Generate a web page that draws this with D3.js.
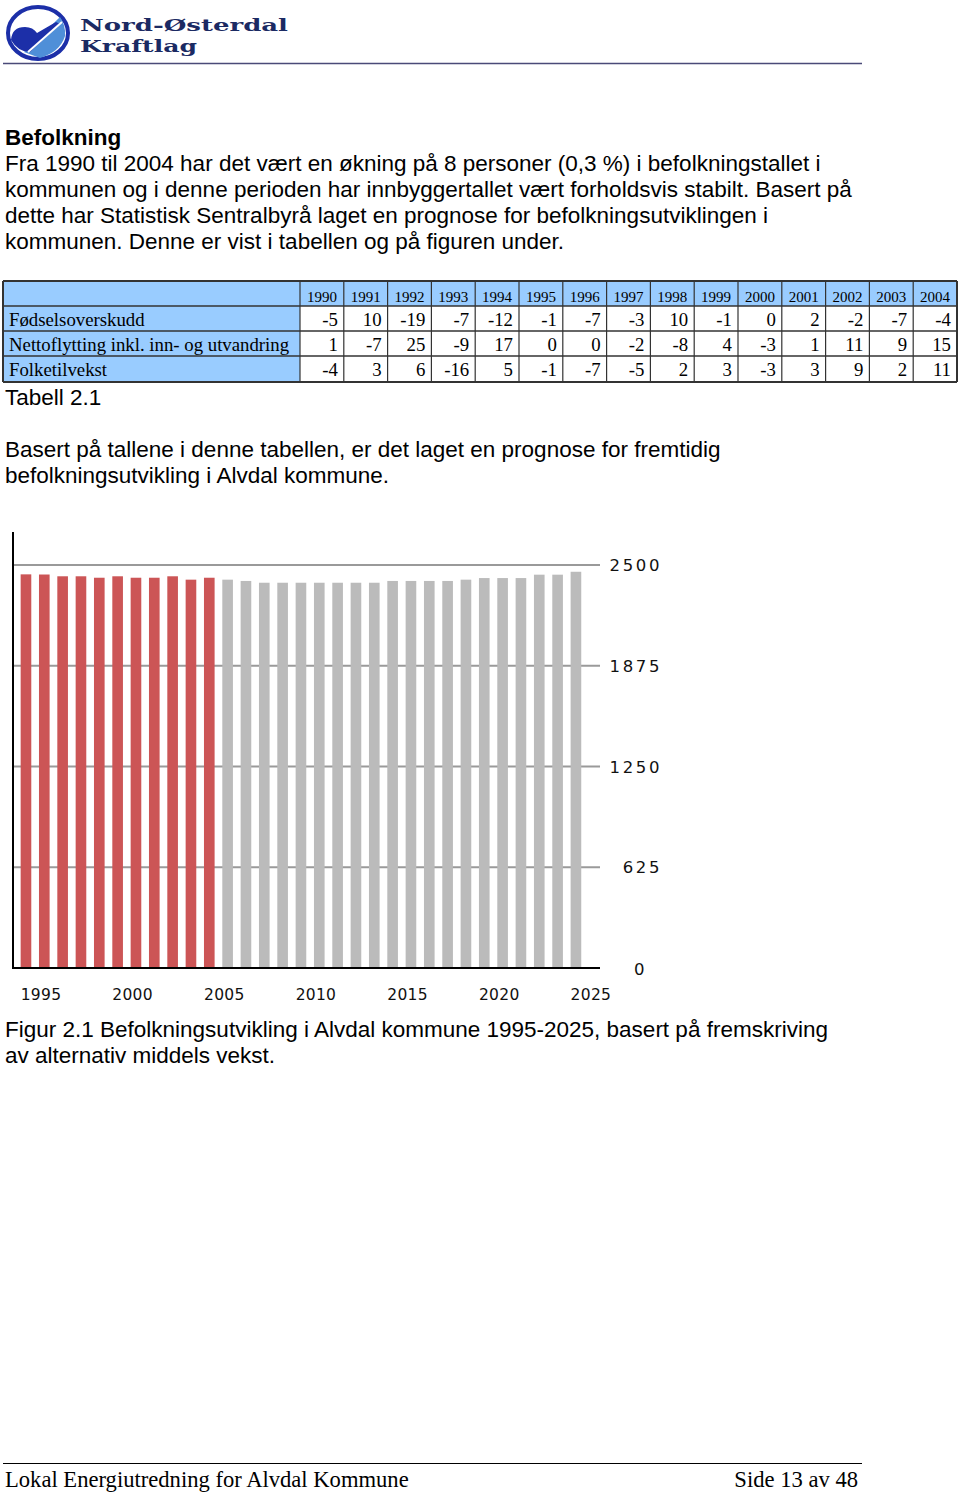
<!DOCTYPE html>
<html>
<head>
<meta charset="utf-8">
<script src="https://cdn.jsdelivr.net/npm/d3@7"></script>
<style>
  html, body { margin: 0; padding: 0; background: #fff; }
  svg { display: block; }
</style>
</head>
<body>
<svg id="page" width="960" height="1492"></svg>
<script>
// ---------- DATA ----------
const popYears = [1995,1996,1997,1998,1999,2000,2001,2002,2003,2004,2005,2006,2007,2008,2009,2010,
                  2011,2012,2013,2014,2015,2016,2017,2018,2019,2020,2021,2022,2023,2024,2025];
const population = [2442,2441,2430,2430,2421,2430,2421,2421,2430,2409,2421,2409,2401,2390,2390,2390,
                    2390,2390,2390,2390,2401,2401,2401,2401,2409,2419,2419,2419,2440,2440,2458];
const lastRegisteredYear = 2005;
const yTicks = [0, 625, 1250, 1875, 2500];
const xTickYears = [1995, 2000, 2005, 2010, 2015, 2020, 2025];

const tableYears = [1990,1991,1992,1993,1994,1995,1996,1997,1998,1999,2000,2001,2002,2003,2004];
const tableRowLabels = ["Fødselsoverskudd", "Nettoflytting inkl. inn- og utvandring", "Folketilvekst"];
const fodselsoverskudd = [-5,10,-19,-7,-12,-1,-7,-3,10,-1,0,2,-2,-7,-4];
const nettoflytting = [1,-7,25,-9,17,0,0,-2,-8,4,-3,1,11,9,15];
const folketilvekst = [-4,3,6,-16,5,-1,-7,-5,2,3,-3,3,9,2,11];

const introLines = [
  "Fra 1990 til 2004 har det vært en økning på 8 personer (0,3 %) i befolkningstallet i",
  "kommunen og i denne perioden har innbyggertallet vært forholdsvis stabilt. Basert på",
  "dette har Statistisk Sentralbyrå laget en prognose for befolkningsutviklingen i",
  "kommunen. Denne er vist i tabellen og på figuren under."
];
const afterTableLines = [
  "Basert på tallene i denne tabellen, er det laget en prognose for fremtidig",
  "befolkningsutvikling i Alvdal kommune."
];
const captionLines = [
  "Figur 2.1 Befolkningsutvikling i Alvdal kommune 1995-2025, basert på fremskriving",
  "av alternativ middels vekst."
];

// ---------- PAGE ----------
const svg = d3.select("#page");
const sans = "'Liberation Sans', Arial, sans-serif";
const serif = "'Liberation Serif', 'Times New Roman', serif";
const bodySize = 22.5;

// Header logo
const logo = svg.append("g");
logo.append("ellipse").attr("cx", 38).attr("cy", 33).attr("rx", 30).attr("ry", 26)
  .attr("fill", "#fff").attr("stroke", "#1c2fa8").attr("stroke-width", 4);
logo.append("path").attr("d", "M24,52 L60,17 Q66,26 65,36 Q60,52 40,58 Z").attr("fill", "#4f8fd8");
logo.append("path").attr("d", "M11,40 Q12,27 25,27 Q33,27 37,33 L56,22 L60,24 L30,52 Q18,52 11,40 Z").attr("fill", "#1c2fa8");
logo.append("path").attr("d", "M28,52 L62,22").attr("stroke", "#fff").attr("stroke-width", 2);
svg.append("text").attr("x", 80).attr("y", 31).text("Nord-Østerdal")
  .attr("font-family", "'DejaVu Serif', serif").attr("font-weight", "bold").attr("font-size", 17)
  .attr("fill", "#1b2a63").attr("textLength", 208).attr("lengthAdjust", "spacingAndGlyphs");
svg.append("text").attr("x", 80).attr("y", 52).text("Kraftlag")
  .attr("font-family", "'DejaVu Serif', serif").attr("font-weight", "bold").attr("font-size", 17)
  .attr("fill", "#1b2a63").attr("textLength", 117).attr("lengthAdjust", "spacingAndGlyphs");
svg.append("line").attr("x1", 3).attr("x2", 862).attr("y1", 63.5).attr("y2", 63.5)
  .attr("stroke", "#4a4a78").attr("stroke-width", 1.5);

// Intro text
svg.append("text").attr("x", 5).attr("y", 145).text("Befolkning")
  .attr("font-family", sans).attr("font-weight", "bold").attr("font-size", bodySize).attr("fill", "#000");
introLines.forEach((t, i) => {
  svg.append("text").attr("x", 5).attr("y", 171 + i * 26).text(t)
    .attr("font-family", sans).attr("font-size", bodySize).attr("fill", "#000");
});

// ---------- TABLE ----------
const tbl = svg.append("g");
const tLeft = 3, tFirstColRight = 300, tRight = 957;
const rowTops = [281, 306, 331, 356, 382];
const colX = d3.scaleBand().domain(tableYears).range([tFirstColRight, tRight]);
const blue = "#99ccff";
tbl.append("rect").attr("x", tLeft).attr("y", rowTops[0]).attr("width", tRight - tLeft)
  .attr("height", rowTops[1] - rowTops[0]).attr("fill", blue);
tbl.append("rect").attr("x", tLeft).attr("y", rowTops[1]).attr("width", tFirstColRight - tLeft)
  .attr("height", rowTops[4] - rowTops[1]).attr("fill", blue);
tbl.selectAll("text.yr").data(tableYears).join("text").attr("class", "yr")
  .attr("x", d => colX(d) + colX.bandwidth() / 2).attr("y", 302)
  .attr("text-anchor", "middle").attr("font-family", serif).attr("font-size", 15)
  .text(d => d);
const rows = [fodselsoverskudd, nettoflytting, folketilvekst];
rows.forEach((vals, r) => {
  const base = rowTops[r + 1] + 20;
  tbl.append("text").attr("x", 9).attr("y", base).text(tableRowLabels[r])
    .attr("font-family", serif).attr("font-size", 18.8);
  tbl.selectAll("text.v" + r).data(vals).join("text").attr("class", "v" + r)
    .attr("x", (d, i) => colX(tableYears[i]) + colX.bandwidth() - 6).attr("y", base)
    .attr("text-anchor", "end").attr("font-family", serif).attr("font-size", 18.8)
    .text(d => d);
});
const gridStroke = "#333";
rowTops.forEach((y, i) => {
  tbl.append("line").attr("x1", tLeft).attr("x2", tRight).attr("y1", y).attr("y2", y)
    .attr("stroke", gridStroke).attr("stroke-width", (i === 0 || i === 4) ? 2 : 1.5);
});
[tLeft, tFirstColRight].concat(tableYears.slice(1).map(d => colX(d)), [tRight]).forEach((x, i, arr) => {
  tbl.append("line").attr("x1", x).attr("x2", x).attr("y1", rowTops[0]).attr("y2", rowTops[4])
    .attr("stroke", gridStroke).attr("stroke-width", (i === 0 || i === arr.length - 1) ? 2 : 1.2);
});
svg.append("text").attr("x", 5).attr("y", 405).text("Tabell 2.1")
  .attr("font-family", sans).attr("font-size", bodySize);
afterTableLines.forEach((t, i) => {
  svg.append("text").attr("x", 5).attr("y", 457 + i * 26).text(t)
    .attr("font-family", sans).attr("font-size", bodySize);
});

// ---------- CHART ----------
const chart = svg.append("g");
const axisX = 13, plotRight = 600, baseY = 968, topY = 565;
const x = d3.scaleBand().domain(popYears).range([16.8, 585.1]).paddingInner(0.42).paddingOuter(0.21);
const y = d3.scaleLinear().domain([0, 2500]).range([baseY, topY]);

chart.selectAll("line.grid").data(yTicks.filter(d => d > 0)).join("line").attr("class", "grid")
  .attr("x1", axisX).attr("x2", plotRight).attr("y1", d => y(d)).attr("y2", d => y(d))
  .attr("stroke", "#9a9a9a").attr("stroke-width", 2);

chart.selectAll("rect.bar").data(popYears).join("rect").attr("class", "bar")
  .attr("x", d => x(d)).attr("width", x.bandwidth())
  .attr("y", (d, i) => y(population[i])).attr("height", (d, i) => baseY - y(population[i]))
  .attr("fill", d => d <= lastRegisteredYear ? "#cc5556" : "#bbbbbb");

chart.append("line").attr("x1", axisX).attr("x2", axisX).attr("y1", 532).attr("y2", baseY + 1)
  .attr("stroke", "#000").attr("stroke-width", 2);
chart.append("line").attr("x1", axisX).attr("x2", plotRight).attr("y1", baseY).attr("y2", baseY)
  .attr("stroke", "#000").attr("stroke-width", 2);

chart.selectAll("text.ylab").data(yTicks).join("text").attr("class", "ylab")
  .attr("x", d => d === 0 ? 647 : 662).attr("y", d => y(d) + (d === 0 ? 7 : 6))
  .attr("text-anchor", "end").attr("font-family", "'DejaVu Sans', Verdana, sans-serif")
  .attr("font-size", 16.5).attr("letter-spacing", 2.6).attr("fill", "#111")
  .text(d => d);

chart.selectAll("text.xlab").data(xTickYears).join("text").attr("class", "xlab")
  .attr("x", d => x(d)).attr("y", 1000)
  .attr("font-family", "'DejaVu Sans', Verdana, sans-serif").attr("font-size", 15.5)
  .attr("letter-spacing", 0.3).attr("fill", "#111")
  .text(d => d);

captionLines.forEach((t, i) => {
  svg.append("text").attr("x", 5).attr("y", 1037 + i * 26).text(t)
    .attr("font-family", sans).attr("font-size", bodySize);
});

// ---------- FOOTER ----------
svg.append("line").attr("x1", 3).attr("x2", 862).attr("y1", 1463.5).attr("y2", 1463.5)
  .attr("stroke", "#000").attr("stroke-width", 1.2);
svg.append("text").attr("x", 5).attr("y", 1487).text("Lokal Energiutredning for Alvdal Kommune")
  .attr("font-family", serif).attr("font-size", 22.6);
svg.append("text").attr("x", 858).attr("y", 1487).attr("text-anchor", "end").text("Side 13 av 48")
  .attr("font-family", serif).attr("font-size", 22.6);
</script>
</body>
</html>
